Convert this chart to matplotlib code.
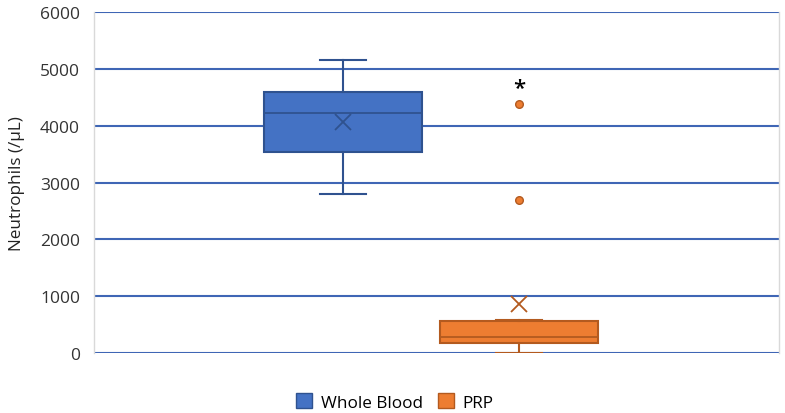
import matplotlib
matplotlib.use("Agg")
import matplotlib.pyplot as plt
from matplotlib.patches import Patch

# Data
groups = ["Whole Blood", "PRP"]
whislo = [2800, 5]
q1 = [3530, 175]
med = [4220, 285]
q3 = [4600, 570]
whishi = [5155, 585]
means = [4060, 860]
fliers = [[], [4380, 2690]]
asterisk_value = 4670
yticks = [0, 1000, 2000, 3000, 4000, 5000, 6000]

fills = ["#4472C4", "#ED7D31"]
edges = ["#2F528F", "#B35A1F"]
grid_color = "#3F66B5"

plt.rcParams['font.family'] = ['Open Sans', 'DejaVu Sans']

fig = plt.figure(figsize=(7.85, 4.14), dpi=100)
ax = fig.add_axes([94/785, 1-354/414, (779-94)/785, (354-13)/414])

positions = [1, 2]
for i in range(2):
    stats = [dict(whislo=whislo[i], q1=q1[i], med=med[i], q3=q3[i],
                  whishi=whishi[i], mean=means[i], fliers=fliers[i], label=groups[i])]
    ax.bxp(stats, positions=[positions[i]], widths=0.9, patch_artist=True,
           showmeans=True, showfliers=True,
           boxprops=dict(facecolor=fills[i], edgecolor=edges[i], linewidth=1.5),
           medianprops=dict(color=edges[i], linewidth=1.3),
           whiskerprops=dict(color=edges[i], linewidth=1.5),
           capprops=dict(color=edges[i], linewidth=1.5),
           capwidths=0.26,
           meanprops=dict(marker='x', markeredgecolor=edges[i], markersize=11, markeredgewidth=1.3),
           flierprops=dict(marker='o', markerfacecolor=fills[i], markeredgecolor=edges[i],
                           markersize=5.5, markeredgewidth=1.0),
           zorder=3)

ax.text(2, asterisk_value, "*", ha='center', va='center', fontsize=16, color='black',
        fontweight='semibold', zorder=4)

ax.set_xlim(1 - (343-94)/176, 2 + (779-519)/176)
ax.set_ylim(0, 6000)
ax.set_yticks(yticks)
ax.set_yticklabels([str(v) for v in yticks], fontsize=12.5, color='#333333')
ax.set_xticks([])
ax.tick_params(axis='y', length=0, pad=10)
ax.yaxis.grid(True, color=grid_color, linewidth=1.5, zorder=0)
ax.set_axisbelow(True)
for s in ['top', 'bottom']:
    ax.spines[s].set_visible(False)
for s in ['left', 'right']:
    ax.spines[s].set_color('#D9D9D9')
    ax.spines[s].set_linewidth(1.0)
ax.set_ylabel("Neutrophils (/µL)", fontsize=12.3, color='#222222', labelpad=11)

handles = [Patch(facecolor=fills[i], edgecolor=edges[i], linewidth=1.0, label=groups[i]) for i in range(2)]
fig.legend(handles=handles, loc='center', bbox_to_anchor=(0.503, 1-403/414), ncol=2,
           frameon=False, fontsize=12.3, handlelength=0.95, handleheight=0.95,
           handletextpad=0.5, columnspacing=0.9)

fig.savefig("out.png", dpi=100)
